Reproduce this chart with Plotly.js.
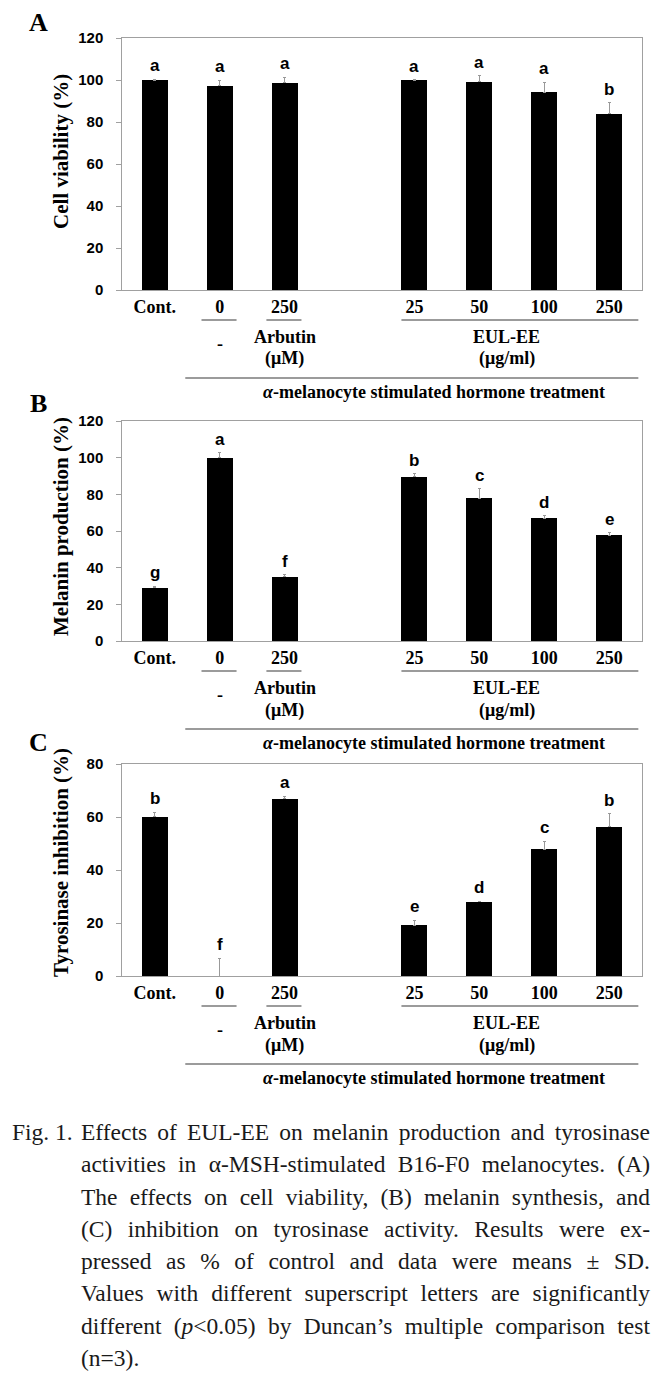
<!DOCTYPE html>
<html><head><meta charset="utf-8">
<script src="https://cdn.plot.ly/plotly-3.0.1.min.js"></script>
<style>
html,body{margin:0;padding:0;background:#fff;}
#wrap{position:relative;width:666px;height:1376px;overflow:hidden;}
#chart{position:absolute;left:0;top:0;width:666px;height:1376px;}
#caption{position:absolute;left:0;top:1116px;width:666px;font-family:"Liberation Serif",serif;font-size:23.5px;line-height:32.3px;color:#1a1a1a;}
#caption .lab{position:absolute;left:12px;top:0;white-space:nowrap;}
#caption .body{position:absolute;left:81px;top:0;width:569px;}
#caption .ln{display:flex;flex-wrap:nowrap;justify-content:space-between;white-space:nowrap;}
#caption .ln.last{justify-content:flex-start;}
</style></head>
<body>
<div id="wrap">
<div id="chart"></div>
<div id="caption">
<div class="lab">Fig. 1.</div>
<div class="body" id="capbody"></div>
</div>
</div>
<script>
// ---- data ----
const categories = ['Cont.', '0', '250', '25', '50', '100', '250'];
const slots = [0, 1, 2, 4, 5, 6, 7];

const viability = [100, 97.3, 98.6, 99.8, 99.2, 94.1, 84.0];
const viabilityErr = [0.3, 2.5, 2.8, 0.3, 2.9, 4.9, 5.1];
const viabilityLetters = ['a', 'a', 'a', 'a', 'a', 'a', 'b'];

const melanin = [29.1, 100, 35.1, 89.6, 77.8, 66.9, 57.8];
const melaninErr = [0.7, 2.7, 1.1, 1.7, 5.3, 1.5, 1.3];
const melaninLetters = ['g', 'a', 'f', 'b', 'c', 'd', 'e'];

const tyrosinase = [60.1, 0, 66.8, 19.1, 28.1, 47.9, 56.4];
const tyrosinaseErr = [1.7, 6.7, 1.0, 1.9, 0.2, 2.9, 4.9];
const tyrosinaseLetters = ['b', 'f', 'a', 'e', 'd', 'c', 'b'];

const groupLabels = {none: '-', arbutin: 'Arbutin', arbutinUnit: '(μM)', eul: 'EUL-EE', eulUnit: '(μg/ml)',
  treatment: '<i>α</i>-melanocyte stimulated hormone treatment'};

const captionLines = [
  'Effects of EUL-EE on melanin production and tyrosinase',
  'activities in α-MSH-stimulated B16-F0 melanocytes. (A)',
  'The effects on cell viability, (B) melanin synthesis, and',
  '(C) inhibition on tyrosinase activity. Results were ex-',
  'pressed as % of control and data were means ± SD.',
  'Values with different superscript letters are significantly',
  'different (<i>p</i>&lt;0.05) by Duncan’s multiple comparison test',
  '(n=3).'
];

// ---- caption ----
const capBody = document.getElementById('capbody');
captionLines.forEach((line, i) => {
  const d = document.createElement('div');
  d.className = 'ln' + (i === captionLines.length - 1 ? ' last' : '');
  d.innerHTML = line.split(' ').map(w => '<span>' + w + '</span>').join('');
  capBody.appendChild(d);
});

// ---- layout helpers ----
const W = 666, H = 1376;
const px = x => x / W, py = y => 1 - y / H;
const SERIF = 'Liberation Serif, Times New Roman, serif';
const SANS = 'Liberation Sans, Arial, sans-serif';

const panels = [
  {tag: 'A', vals: viability, errs: viabilityErr, letters: viabilityLetters, title: 'Cell viability (%)',
   range: [0, 120], dtick: 20, top: 38, bottom: 290, tagY: 23, titleY: 152},
  {tag: 'B', vals: melanin, errs: melaninErr, letters: melaninLetters, title: 'Melanin production (%)',
   range: [0, 120], dtick: 20, top: 421, bottom: 641, tagY: 403, titleY: 527},
  {tag: 'C', vals: tyrosinase, errs: tyrosinaseErr, letters: tyrosinaseLetters, title: 'Tyrosinase inhibition (%)',
   range: [0, 80], dtick: 20, top: 764, bottom: 976, tagY: 742, titleY: 863}
];

const data = [], shapes = [], annotations = [];
const layout = {
  width: W, height: H, margin: {l: 0, r: 0, t: 0, b: 0},
  paper_bgcolor: '#fff', plot_bgcolor: '#fff', showlegend: false,
  bargap: 0
};
const xdom = [px(122.3), px(641.6)];

panels.forEach((p, k) => {
  const n = k === 0 ? '' : String(k + 1);
  const xr = 'x' + n, yr = 'y' + n;
  layout['xaxis' + n] = {
    domain: xdom, anchor: yr, range: [-0.5, 7.5], tickvals: slots, ticktext: categories,
    ticks: '', showgrid: false, zeroline: false, showline: true, mirror: true,
    linecolor: '#a0a0a0', linewidth: 1, fixedrange: true,
    tickfont: {family: SERIF, size: 18, color: '#000', weight: 700}
  };
  layout['yaxis' + n] = {
    domain: [py(p.bottom), py(p.top)], anchor: xr, range: p.range, dtick: p.dtick,
    ticks: 'outside', ticklen: 5, tickcolor: '#a0a0a0', showgrid: false, zeroline: false,
    showline: true, mirror: true, linecolor: '#a0a0a0', linewidth: 1, fixedrange: true,
    tickfont: {family: SANS, size: 15, color: '#000', weight: 700}, ticklabelstandoff: 10
  };
  data.push({
    type: 'bar', x: slots, y: p.vals, xaxis: xr, yaxis: yr, width: 0.4,
    marker: {color: '#000', line: {width: 0}},
    error_y: {type: 'data', symmetric: false, array: p.errs, arrayminus: p.errs.map(() => 0),
      color: '#999', thickness: 1, width: 1.5},
    hoverinfo: 'skip'
  });
  // significance letters
  p.vals.forEach((v, i) => {
    annotations.push({x: slots[i], y: v + p.errs[i], xref: xr, yref: yr, xanchor: 'center', yanchor: 'bottom', yshift: 2,
      text: '<b>' + p.letters[i] + '</b>', showarrow: false, font: {family: SANS, size: 17, color: '#000'}});
  });
  // y title
  annotations.push({x: px(61), y: py(p.titleY), xref: 'paper', yref: 'paper', xanchor: 'center', yanchor: 'middle',
    textangle: -90, text: '<b>' + p.title + '</b>', showarrow: false, font: {family: SERIF, size: 21, color: '#000'}});
  // panel tag
  annotations.push({x: px(38), y: py(p.tagY), xref: 'paper', yref: 'paper', xanchor: 'center', yanchor: 'middle',
    text: '<b>' + p.tag + '</b>', showarrow: false, font: {family: SERIF, size: 26, color: '#000'}});
  // group lines
  const lineY = py(p.bottom + 30);
  const lineStyle = {color: '#7a7a7a', width: 1.5};
  [[slots[1] - 0.28, slots[1] + 0.26], [slots[2] - 0.28, slots[2] + 0.26], [slots[3] - 0.2, slots[6] + 0.45]]
    .forEach(([a, b]) => shapes.push({type: 'line', xref: xr, yref: 'paper', x0: a, x1: b, y0: lineY, y1: lineY, line: lineStyle}));
  const longY = py(p.bottom + 88);
  shapes.push({type: 'line', xref: xr, yref: 'paper', x0: slots[0] + 0.47, x1: slots[6] + 0.45, y0: longY, y1: longY, line: lineStyle});
  // group labels
  const lab = (x, dy, t) => annotations.push({x: x, y: py(p.bottom + dy), xref: xr, yref: 'paper',
    xanchor: 'center', yanchor: 'middle',
    text: '<b>' + t + '</b>', showarrow: false, font: {family: SERIF, size: 18, color: '#000'}});
  lab(slots[1], 54, groupLabels.none);
  lab(slots[2], 47, groupLabels.arbutin);
  lab(slots[2], 69, groupLabels.arbutinUnit);
  const eulX = (slots[4] + slots[5]) / 2 - 0.08;
  lab(eulX, 47, groupLabels.eul);
  lab(eulX, 69, groupLabels.eulUnit);
  lab(4.3, 102, groupLabels.treatment);
});

layout.shapes = shapes;
layout.annotations = annotations;
Plotly.newPlot('chart', data, layout, {staticPlot: true, displayModeBar: false});
</script>
</body></html>
